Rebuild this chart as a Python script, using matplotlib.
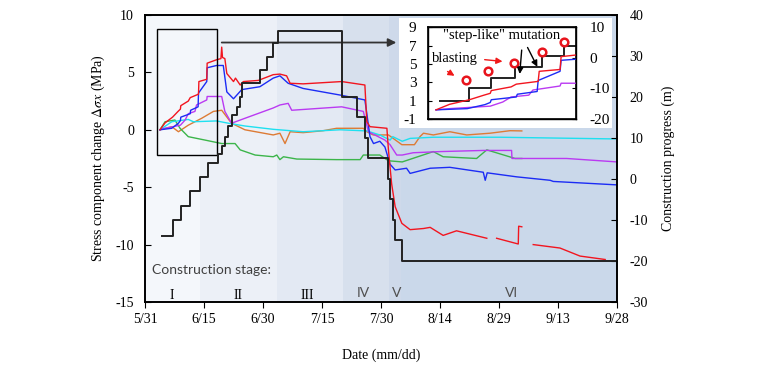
import numpy as np
import matplotlib
matplotlib.use('Agg')
import matplotlib.pyplot as plt
from matplotlib.patches import Rectangle

nan = np.nan

# x axis = days counted from 5/31
xtick_pos = [0, 15, 30, 45, 60, 75, 90, 105, 120]
xtick_lab = ['5/31', '6/15', '6/30', '7/15', '7/30', '8/14', '8/29', '9/13', '9/28']

# construction stages
stage_edges = [0, 14, 33.5, 50.4, 62.1, 65.2, 120]
stage_names = ['I', 'II', 'III', 'IV', 'V', 'VI']
stage_lab_x = [6.8, 23.7, 41.2, 55.4, 64.0, 93.1]

# stress change (MPa) of the monitoring points
red_d = [3.8, 5.1, 7.0, 8.4, 9.0, 9.1, 11.0, 11.5, 13.6, 13.7, 15.7, 15.8, 18.2, 19.3, 19.5, 19.7,
         20.3, 20.8, 22.5, 23.0, 24.2, 25.0, 28.8, 32.6, 34.3, 36.0, 36.9, 40.2, 50.0, 55.9, 56.4,
         57.2, 61.5, 61.9, 62.7, 63.6, 65.3, 67.4, 70.8, 72.5, 75.8, 79.2, 86.9, 88.0, 89.4, 94.9,
         95.0, 95.8, 97.0, 98.7, 105.5, 110.6, 117.0]
red_v = [0.0, 0.6, 1.1, 1.6, 1.8, 2.1, 2.5, 2.8, 3.1, 4.2, 4.4, 5.8, 6.1, 6.2, 7.2, 6.3,
         6.2, 4.9, 4.2, 4.5, 3.9, 4.2, 4.3, 4.8, 4.85, 4.7, 4.05, 4.0, 4.2, 3.9, 0.7,
         0.27, 0.13, -1.8, -4.7, -6.7, -8.15, -8.7, -8.6, -8.5, -9.2, -8.8, -9.45, nan, -9.45, -9.95,
         -8.4, -8.45, nan, -10.0, -10.3, -11.0, -11.3]

blue_d = [3.8, 6.8, 8.5, 9.0, 9.1, 11.5, 11.6, 13.5, 13.6, 15.7, 15.8, 18.2, 19.9, 20.8, 22.5,
          24.6, 29.2, 32.6, 34.3, 36.4, 40.2, 50.0, 55.9, 56.4, 57.2, 58.1, 59.7, 61.0, 62.3,
          63.6, 66.5, 67.4, 72.5, 77.5, 86.0, 86.5, 87.0, 94.5, 103.0, 103.8, 120.0]
blue_v = [0.0, 0.13, 0.57, 0.8, 1.1, 1.4, 1.7, 2.0, 3.2, 4.2, 5.4, 5.6, 5.6, 3.3, 2.7,
          3.5, 3.75, 4.5, 4.7, 4.05, 3.6, 3.0, 2.6, 1.4, -0.6, -1.2, -1.0, -1.5, -3.0,
          -3.5, -3.35, -3.8, -3.35, -3.27, -3.7, -4.4, -3.75, -4.1, -4.4, -4.5, -4.8]

mag_d = [3.8, 5.1, 9.0, 10.2, 11.0, 12.7, 13.1, 15.7, 15.8, 19.5, 20.3, 22.0, 25.4, 32.6, 34.3,
         36.4, 37.3, 50.0, 55.5, 56.8, 61.0, 62.3, 64.0, 65.4, 68.2, 75.0, 86.0, 93.2, 93.3,
         107.2, 120.0]
mag_v = [0.0, 0.13, 0.4, 0.85, 1.4, 1.6, 2.16, 2.6, 2.9, 2.9, 1.6, 0.57, 1.0, 1.9, 2.16,
         2.3, 1.7, 2.0, 1.6, -0.17, -0.9, -1.3, -2.2, -2.2, -2.0, -1.9, -1.8, -1.8, -2.5,
         -2.5, -2.8]

org_d = [3.8, 6.8, 8.5, 11.0, 14.4, 17.4, 19.5, 22.0, 25.4, 32.6, 34.3, 35.6, 36.9, 40.2, 45.3,
         48.7, 55.5, 56.4, 58.0, 61.9, 65.3, 68.5, 69.9, 70.8, 73.3, 77.5, 81.8, 87.7, 92.8, 95.8]
org_v = [0.0, 0.27, -0.17, 0.4, 1.0, 1.6, 1.7, 0.57, 0.0, -0.45, -0.3, -1.2, -0.17, -0.25, -0.08,
         0.13, 0.13, -0.17, -0.45, -0.45, -1.3, -1.3, -0.6, -0.3, -0.45, -0.17, -0.45, -0.3, -0.08, -0.1]

cyan_d = [3.8, 6.8, 11.0, 12.3, 18.2, 21.2, 25.4, 32.6, 40.2, 49.6, 56.4, 59.7, 62.3, 63.0,
          65.4, 67.4, 73.3, 90.3, 120.0]
cyan_v = [0.0, 0.7, 0.9, 0.7, 0.77, 0.57, 0.33, 0.04, -0.17, 0.0, -0.1, -0.45, -0.9, -0.6,
          -1.0, -0.75, -0.65, -0.65, -0.8]

grn_d = [3.8, 5.1, 7.6, 8.9, 11.0, 15.3, 19.5, 22.9, 24.2, 28.0, 32.6, 33.5, 34.3, 35.2, 38.6,
         48.7, 54.7, 55.5, 59.7, 61.9, 65.4, 73.3, 75.8, 84.3, 86.9, 94.1, 95.8]
grn_v = [0.0, 0.7, 0.85, 0.13, -0.6, -0.9, -1.2, -1.2, -1.75, -2.2, -2.35, -2.2, -2.6, -2.35, -2.55,
         -2.6, -2.6, -2.2, -2.2, -2.7, -2.8, -1.9, -2.35, -2.5, -1.75, -2.5, -2.5]

# construction progress (m), stepwise
prog_d = [4.2, 7.0, 9.1, 11.4, 14.0, 16.1, 18.6, 19.5, 20.3, 21.2, 22.0, 23.3, 24.2, 24.7,
          29.2, 30.9, 32.6, 33.7, 50.0, 53.8, 55.9, 56.8, 61.9, 62.3, 63.0, 63.6, 65.3, 120.0]
prog_v = [-14, -10, -6.5, -3, 0.5, 3.8, 6, 8, 10.3, 12.8, 15.6, 17.6, 20.1, 23.3,
          26.6, 29.7, 33.1, 36.2, 20, 15, 10, 5, 0, -5, -10, -15, -20, -20]

# blasting events shown in the inset
blast_d = [6.67, 8.81, 11.24, 13.93, 16.08]
blast_v = [3.2, 4.2, 5.1, 6.3, 7.4]

plt.rcParams['font.family'] = 'Liberation Serif'
plt.rcParams['mathtext.fontset'] = 'stix'
plt.rcParams['axes.linewidth'] = 1.2
plt.rcParams['axes.unicode_minus'] = False

stage_colors = ['#F4F7FB', '#ECF0F7', '#E3E9F3', '#D7E0ED', '#CED9EA', '#CAD8EA']

fig = plt.figure(figsize=(7.62, 3.66), dpi=100)
ax = fig.add_axes([0.1903, 0.1749, 0.6194, 0.7842])
for i in range(len(stage_names)):
    ax.axvspan(stage_edges[i], stage_edges[i + 1], color=stage_colors[i], lw=0, zorder=0)

lines = [(org_d, org_v, '#DD7B35'), (grn_d, grn_v, '#3CB54A'), (cyan_d, cyan_v, '#1EE0F0'),
         (mag_d, mag_v, '#BA3AF2'), (blue_d, blue_v, '#1C2CF5'), (red_d, red_v, '#F2151F')]
for d, v, c in lines:
    ax.plot(d, v, color=c, lw=1)

ax.set_xlim(0, 120)
ax.set_ylim(-15, 10)
ax.set_xticks(xtick_pos)
ax.set_xticklabels(xtick_lab)
ax.set_yticks([-15, -10, -5, 0, 5, 10])
ax.tick_params(axis='x', direction='out', length=4, labelsize=10, pad=4)
ax.tick_params(axis='y', direction='in', length=4, labelsize=10, pad=8)
ax.set_xlabel('Date (mm/dd)', fontsize=10, labelpad=16)
ax.set_ylabel(r'Stress component change $\Delta\sigma x$ (MPa)', fontsize=10, labelpad=6)

# zoom box and arrow to inset
ax.add_patch(Rectangle((3.0, -2.2), 15.4, 10.95, fill=False, ec='black', lw=1, zorder=5))
ax.annotate('', xy=(64.6, 7.6), xytext=(18.8, 7.6),
            arrowprops=dict(arrowstyle='-|>', color='#333333', lw=1.3, mutation_scale=12))

ax.text(1.7, -12.2, 'Construction stage:', family='Lato', fontsize=10, color='#404040', va='center')
for i in range(len(stage_names)):
    if i < 3:
        ax.text(stage_lab_x[i], -14.4, stage_names[i], fontsize=10, ha='center', va='center')
    else:
        ax.text(stage_lab_x[i], -14.2, stage_names[i], family='Lato', fontsize=10,
                color='#505050', ha='center', va='center')

ax2 = ax.twinx()
ax2.plot(prog_d, prog_v, drawstyle='steps-post', color='#222222', lw=1.4)
ax2.set_ylim(-30, 40)
ax2.set_yticks([-30, -20, -10, 0, 10, 20, 30, 40])
ax2.tick_params(axis='y', direction='in', length=4, labelsize=10, pad=9)
ax2.set_ylabel('Construction progress (m)', fontsize=10, labelpad=10)

# inset
fig.add_artist(Rectangle((0.524, 0.6495), 0.2787, 0.3005, transform=fig.transFigure,
                         fc='white', ec='none', zorder=1))
axi = fig.add_axes([0.5613, 0.6749, 0.1942, 0.2505])
axi.set_zorder(4)
axi.patch.set_visible(False)
axi2 = axi.twinx()
axi2.set_zorder(3)
axi2.plot(prog_d, prog_v, drawstyle='steps-post', color='#222222', lw=1.4)
axi2.set_ylim(-20, 10)
axi2.set_yticks([-20, -10, 0, 10])
axi2.tick_params(axis='y', direction='in', length=3, labelsize=11, pad=10)

axi.plot(mag_d, mag_v, color='#BA3AF2', lw=1)
axi.plot(blue_d, blue_v, color='#1C2CF5', lw=1)
axi.plot(red_d, red_v, color='#F2151F', lw=1)
axi.plot(blast_d, blast_v, 'o', mfc='white', mec='#E8141C', ms=5.5, mew=1.8)
axi.set_xlim(3.0, 17.2)
axi.set_ylim(-1, 9)
axi.set_xticks([])
axi.set_yticks([-1, 1, 3, 5, 7, 9])
axi.tick_params(axis='y', direction='in', length=3, labelsize=11, pad=8)
for s in axi.spines.values():
    s.set_linewidth(1)

axi.text(3.4, 5.65, 'blasting', fontsize=10.5, ha='left', va='center')
axi.text(10.06, 8.16, '"step-like" mutation', fontsize=10.5, ha='center', va='center')
red_arrow = dict(arrowstyle='-|>', color='#F01818', lw=1, mutation_scale=9)
axi.annotate('', xy=(5.8, 3.55), xytext=(4.68, 4.34), arrowprops=red_arrow)
axi.annotate('', xy=(10.44, 5.25), xytext=(8.2, 5.5), arrowprops=red_arrow)
blk_arrow = dict(arrowstyle='-|>', color='black', lw=1, mutation_scale=9)
axi.annotate('', xy=(11.81, 3.61), xytext=(12.04, 6.82), arrowprops=blk_arrow)
axi.annotate('', xy=(13.64, 4.42), xytext=(12.46, 7.07), arrowprops=blk_arrow)

fig.savefig('out.png', dpi=100)
